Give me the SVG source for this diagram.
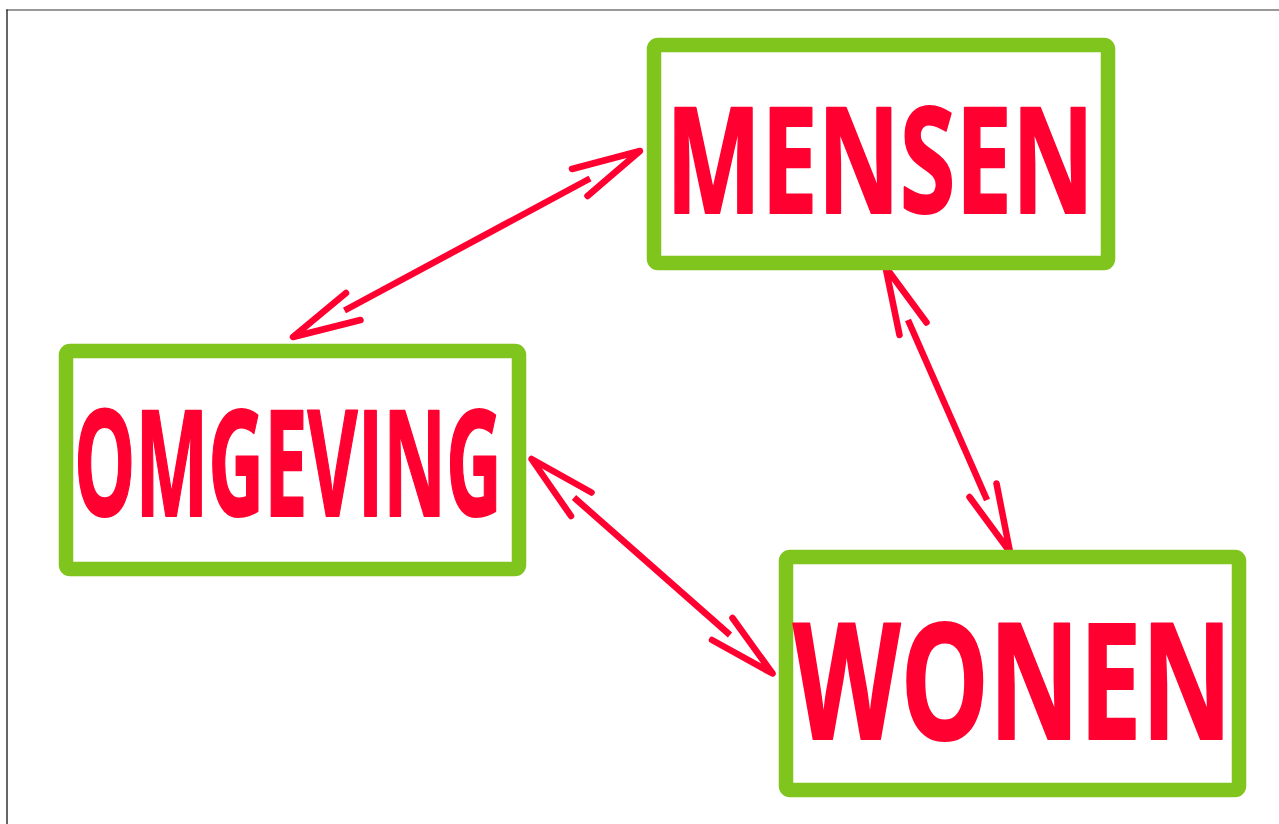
<svg xmlns="http://www.w3.org/2000/svg" width="1279" height="824" viewBox="0 0 1279 824">
<style>
.box{fill:#fff;stroke:#80C41E;stroke-width:14.5;stroke-linejoin:round}
.lbl{font-family:"Open Sans","Liberation Sans",sans-serif;font-weight:700;fill:#FF0030;stroke:#FF0030;stroke-width:2;stroke-linejoin:round}
.shaft{fill:none;stroke:#FF0030;stroke-width:6.5;stroke-linecap:butt}
.head{fill:none;stroke:#FF0030;stroke-width:6.5;stroke-linecap:round;stroke-linejoin:round}
</style>
<rect x="0" y="0" width="1279" height="824" fill="#fff"/>
<line x1="6" y1="10" x2="1279" y2="10" stroke="#777" stroke-width="1.5"/>
<line x1="7" y1="9.5" x2="7" y2="824" stroke="#333" stroke-width="1.5"/>
<g id="connectors">
  <g id="c-mensen-omgeving">
    <path class="shaft" d="M590,178.5 L344.5,310.5"/>
    <path class="head" d="M572,169 L640,151 L587.5,196"/>
    <path class="head" d="M346,293 L293,337 L360.5,320"/>
  </g>
  <g id="c-mensen-wonen">
    <path class="shaft" d="M908,320 L987,500"/>
    <path class="head" d="M899.5,335 L885.5,267 L926.5,322.5"/>
    <path class="head" d="M996.5,483.5 L1010,552 L969.5,497"/>
  </g>
  <g id="c-omgeving-wonen">
    <path class="shaft" d="M574,497.5 L730,635"/>
    <path class="head" d="M591.5,492.5 L531.5,459 L571,516"/>
    <path class="head" d="M732.5,618 L772.5,673.5 L712,640"/>
  </g>
</g>
<g id="mensen">
  <rect class="box" x="654" y="45" width="454" height="218" rx="4"/>
  <text class="lbl" x="666" y="213" font-size="148" textLength="428" lengthAdjust="spacingAndGlyphs">MENSEN</text>
</g>
<g id="omgeving">
  <rect class="box" x="66" y="351" width="453" height="218" rx="4"/>
  <text class="lbl" x="74" y="516" font-size="148" textLength="428" lengthAdjust="spacingAndGlyphs">OMGEVING</text>
</g>
<g id="wonen">
  <rect class="box" x="786" y="557" width="453" height="233" rx="4"/>
  <text class="lbl" x="793" y="739" font-size="162" textLength="439" lengthAdjust="spacingAndGlyphs">WONEN</text>
</g>
</svg>
